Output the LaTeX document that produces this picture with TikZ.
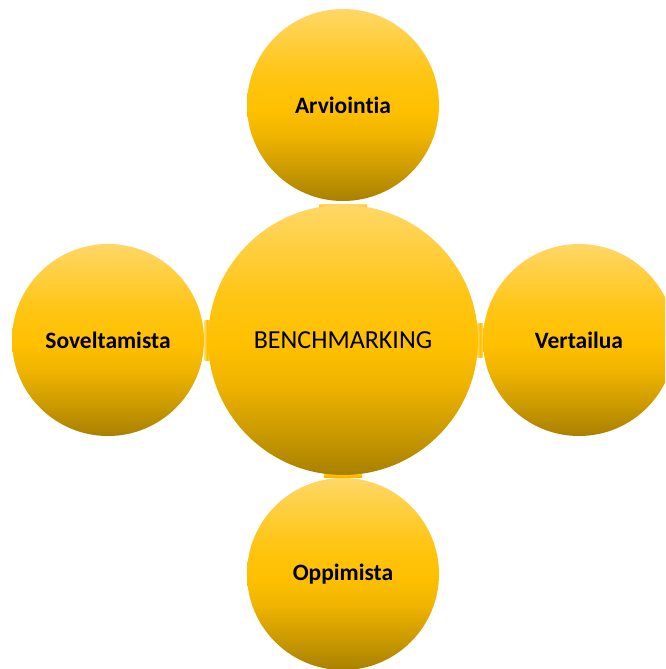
\documentclass[tikz,border=0pt]{standalone}
\usepackage{fontspec}
\setmainfont{Carlito}[Ligatures=NoCommon]
\usetikzlibrary{calc}
\definecolor{goldtop}{HTML}{FFD766}
\definecolor{goldhi}{HTML}{FFC514}
\definecolor{goldmid}{HTML}{FFC000}
\definecolor{goldlow}{HTML}{F0B400}
\definecolor{golddeep}{HTML}{CB9A00}
\definecolor{goldbot}{HTML}{A98000}
% vertical gold fill: light at the top, strong gold in the middle, deep at the bottom
\pgfdeclareverticalshading{goldball}{100bp}{%
  color(0bp)=(goldbot); color(25bp)=(goldbot); color(33bp)=(golddeep);
  color(42bp)=(goldlow); color(49bp)=(goldmid); color(58bp)=(goldhi);
  color(75bp)=(goldtop); color(100bp)=(goldtop)}
\pgfdeclareverticalshading{goldbar}{100bp}{%
  color(0bp)=(goldlow); color(25bp)=(goldlow); color(50bp)=(goldmid);
  color(75bp)=(goldtop); color(100bp)=(goldtop)}
\pgfdeclarehorizontalshading{goldbarv}{100bp}{%
  color(0bp)=(goldtop); color(25bp)=(goldtop); color(50bp)=(goldmid);
  color(75bp)=(goldtop); color(100bp)=(goldtop)}
\tikzset{
  ball/.style={circle, inner sep=0pt, minimum size=192pt, shading=goldball,
    font=\bfseries\fontsize{23.5}{28}\selectfont, text=black},
  hub/.style={ball, minimum size=270pt,
    font=\fontsize{26}{31}\selectfont},
  hbar/.style={shading=goldbar},
  vbar/.style={shading=goldbarv}
}
\begin{document}
\begin{tikzpicture}[x=1pt,y=-1pt]
  \useasboundingbox (0,0) rectangle (665,669);
  \clip (0,0) rectangle (665,669);
  \fill[white] (0,0) rectangle (665,669);
  % joining bars sit behind the circles
  \coordinate (jt) at (343,207);
  \coordinate (jb) at (343,475);
  \coordinate (jl) at (207,340);
  \coordinate (jr) at (480,340);
  \shade[hbar] ($(jt)+(-24,-3)$) rectangle ($(jt)+(24,3)$);
  \shade[hbar] ($(jb)+(-19,-2.5)$) rectangle ($(jb)+(19,2.5)$);
  \shade[vbar] ($(jl)+(-2.5,-20)$) rectangle ($(jl)+(2.5,20)$);
  \shade[vbar] ($(jr)+(-2.5,-17)$) rectangle ($(jr)+(2.5,17)$);
  % circles
  \node[hub]  (bm)  at (343,340) {BENCHMARKING};
  \node[ball] (arv) at (343,105) {Arviointia};
  \node[ball] (sov) at (108,340) {Soveltamista};
  \node[ball] (ver) at (579,340) {Vertailua};
  \node[ball] (opp) at (343,574) {Oppimista};
\end{tikzpicture}
\end{document}
